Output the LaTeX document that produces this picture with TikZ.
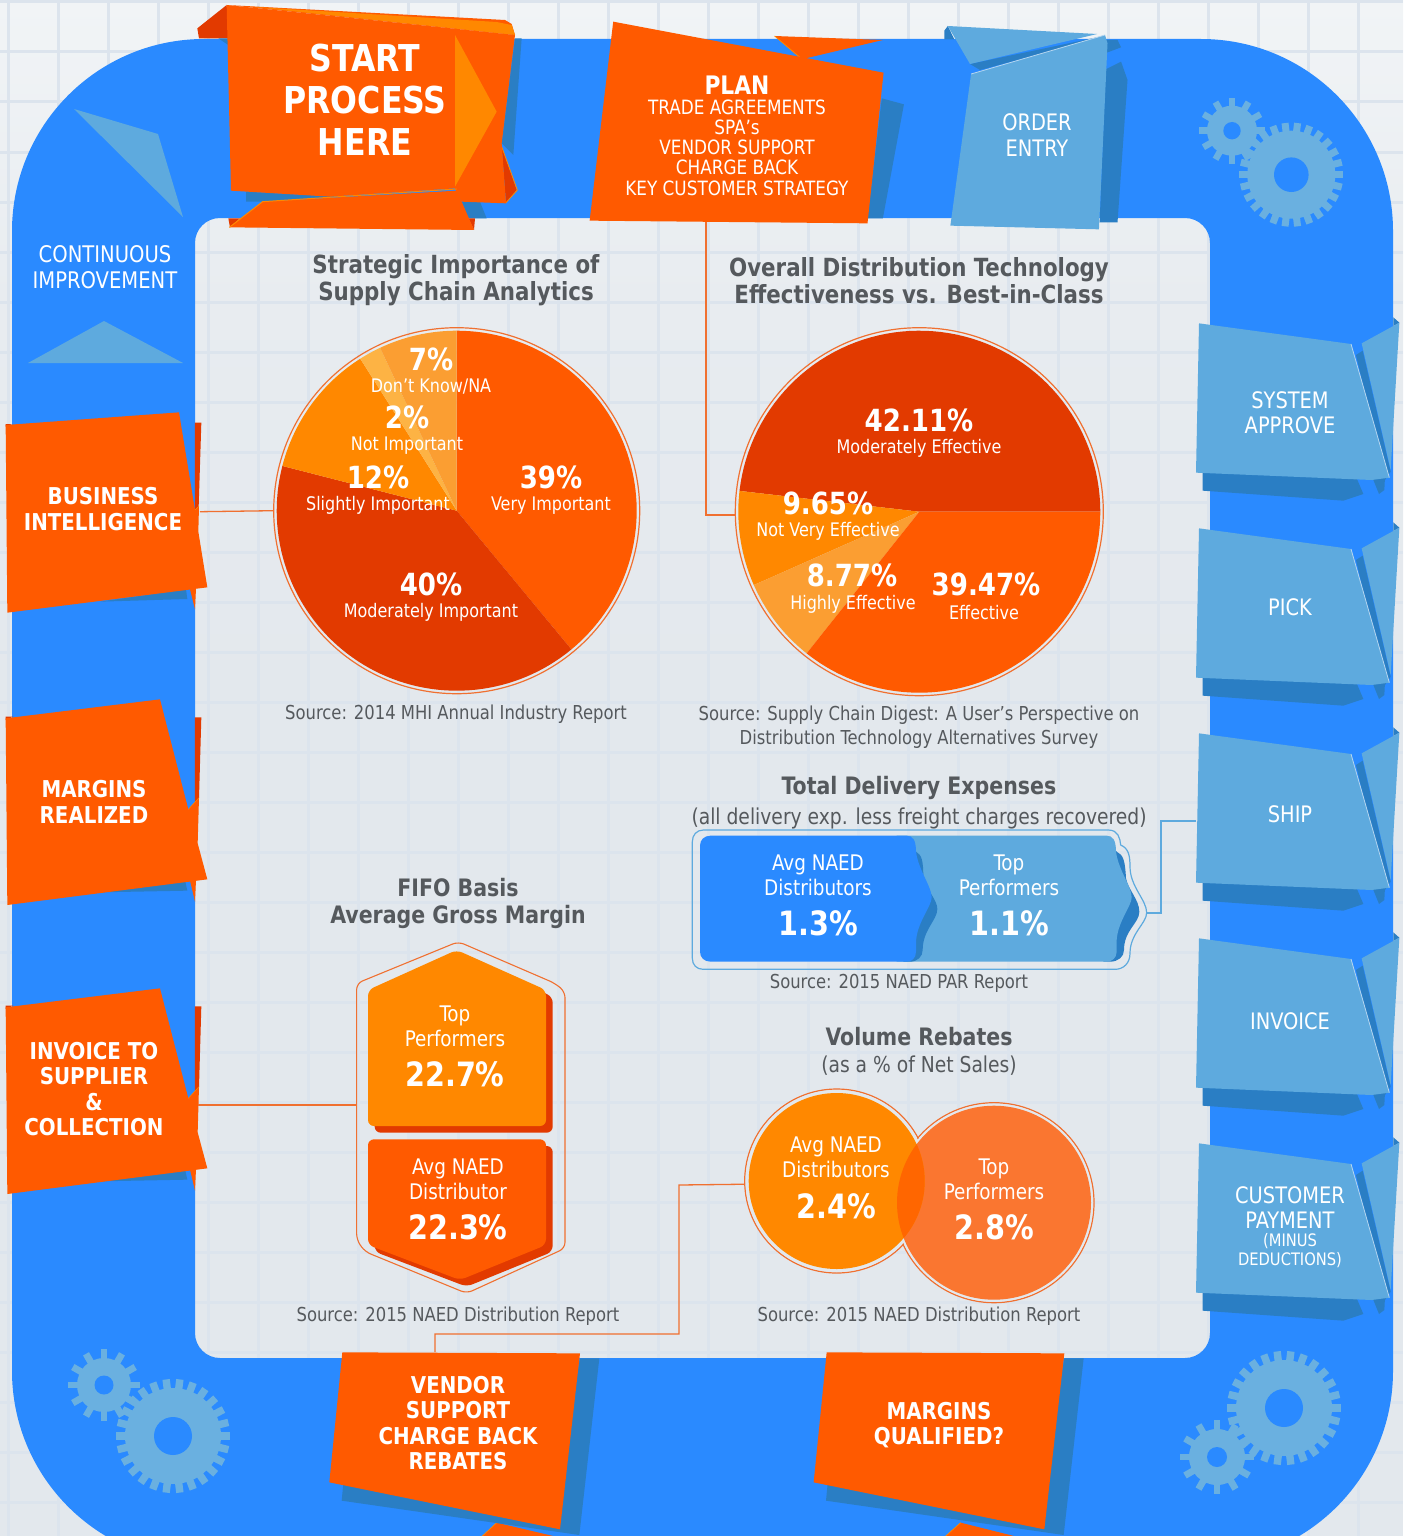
\documentclass[tikz,border=0pt]{standalone}
\usepackage{fontspec}
\setmainfont{DejaVu Sans Condensed}[BoldFont={DejaVu Sans Condensed Bold},FakeStretch=0.95]
\definecolor{cBand}{HTML}{2A8AFF}
\definecolor{cOr}{HTML}{FF5A00}
\definecolor{cDk}{HTML}{E23A00}
\definecolor{cLo}{HTML}{FF8800}
\definecolor{cPale}{HTML}{FB9E32}
\definecolor{cPaler}{HTML}{FDB344}
\definecolor{cLb}{HTML}{5EAADE}
\definecolor{cDb}{HTML}{2A7EC4}
\definecolor{cEdge}{HTML}{B5D6F0}
\definecolor{cGear}{HTML}{6AB0E0}
\definecolor{cGrid}{HTML}{DCE4ED}
\definecolor{cLink}{HTML}{F07030}
\definecolor{cGrey}{HTML}{55595D}
\definecolor{cGap}{HTML}{E3E8ED}
\definecolor{cTop}{HTML}{FA7630}
\definecolor{cLens}{HTML}{FF6600}
\definecolor{cPageTop}{HTML}{F1F4F6}
\definecolor{cPageMid}{HTML}{E8ECF0}
\newcommand{\fsz}[1]{\fontsize{#1}{#1}\selectfont}
\tikzset{
  x=1pt,y=-1pt,
  zoomed/.style={x=0.33333pt,y=-0.33333pt},
  zoomedb/.style={x=0.35714pt,y=-0.33333pt},
  txt/.style={inner sep=0pt,align=center,text=white},
  boxbold/.style={txt,font=\fsz{23.2}\bfseries,execute at begin node={\setlength{\baselineskip}{25.5pt}}},
  boxlight/.style={txt,font=\fsz{22.7},execute at begin node={\setlength{\baselineskip}{25.5pt}}},
  title/.style={txt,text=cGrey,font=\fsz{25}\bfseries,execute at begin node={\setlength{\baselineskip}{27pt}}},
  srcnote/.style={txt,text=cGrey,font=\fsz{19.2},execute at begin node={\setlength{\baselineskip}{24pt}}},
  subnote/.style={txt,text=cGrey,font=\fsz{21.9}},
  pct/.style={txt,font=\fsz{30.5}\bfseries},
  lab/.style={txt,font=\fsz{18.7}},
  stat/.style={txt,font=\fsz{21.5},execute at begin node={\setlength{\baselineskip}{25pt}}},
  statnum/.style={txt,font=\fsz{33.5}\bfseries},
  ring/.style={circle,draw=cLink,line width=1.2pt,inner sep=0pt},
  orlink/.style={draw=cLink,line width=1.3pt},
  bllink/.style={draw=cLb,line width=1.3pt},
}
\newcommand{\slice}[6]{\fill[#6] (#1,#2) -- plot[domain=#4:#5,samples=70] ({#1+#3*cos(\x)},{#2+#3*sin(\x)}) -- cycle;}
\newcommand{\gear}[7]{%
  \foreach \i in {1,...,#5}{%
    \pgfmathsetmacro{\ang}{360*\i/#5}%
    \fill[cGear,rotate around={\ang:(#1,#2)}] ({#1+#4-3},{#2-#7}) rectangle ({#1+#3},{#2+#7});
  }%
  \fill[cGear] (#1,#2) circle[radius=#4];
  \fill[cBand] (#1,#2) circle[radius=#6];
}
\newcommand{\leftfold}[1]{%
  \begin{scope}[shift={(0,#1)},zoomed]
    \fill[cDk] (585,952) -- (604,952) -- (597,1195) -- (585,1210) -- cycle;
    \fill[cDk] (17,950) -- (40,950) -- (17,960) -- cycle;
    \fill[cDb] (300,1477) -- (562,1472) -- (555,1440) -- cycle;
    \fill[cOr] (570,1442) -- (588,1440) -- (585,1505) -- cycle;
    \fill[cOr] (17,955) -- (480,898) -- (565,1228) -- (597,1193) -- (593,1330) -- (622,1438) -- (22,1515) -- cycle;
    \draw[cLo,line width=0.5pt] (565,1228) -- (597,1193);
  \end{scope}%
}
\newcommand{\bottomfold}[5]{%
  \begin{scope}[shift={(#1,1340)},zoomed]
    \fill[cOr] (#2,548) -- (#3,590) -- (#4,590) -- cycle;
    \draw[cLo,line width=0.7pt] (#2,548) -- (#4,590);
    \fill[cDb] (#5+65,482) -- (#5+778,585) -- (#5+838,55) -- (#5+780,55) -- (#5+720,400) -- (#5+70,430) -- cycle;
    \fill[cOr] (#5+67,37) -- (#5+780,40) -- (#5+720,568) -- (#5+28,427) -- cycle;
  \end{scope}%
}
\begin{document}
\begin{tikzpicture}
\useasboundingbox (0,0) rectangle (1403,1536);
\clip (0,0) rectangle (1403,1536);
% page background and grid
\fill[cGap] (0,0) rectangle (1403,1536);
\shade[top color=cPageMid,bottom color=cGap] (0,300) rectangle (1403,700);
\shade[top color=cPageTop,bottom color=cPageMid] (0,0) rectangle (1403,300.5);
\foreach \gx in {8,58,...,1408}{\draw[cGrid,line width=3pt] (\gx+0.5,0) -- (\gx+0.5,1536);}
\foreach \gy in {2,52,...,1502}{\draw[cGrid,line width=3pt] (0,\gy) -- (1403,\gy);}
% blue frame
\fill[cBand,even odd rule,rounded corners=192pt] (12,39) rectangle (1393,1563)
   [rounded corners=25pt] (195,218) rectangle (1210,1358);
% plain triangles of the frame
\fill[cLb] (74,109) -- (158,134) -- (183,217) -- cycle;
\fill[cLb] (28,363) -- (104,321) -- (183,363) -- cycle;
\node[boxlight,font=\fsz{22.9}] (cont) at (105,267) {CONTINUOUS\\IMPROVEMENT};
% gears
\gear{1291.3}{174.7}{52}{44}{26}{17.3}{3.5}
\gear{1232}{130.7}{33}{25}{12}{8.7}{3.2}
\gear{173}{1436}{57}{48}{26}{19}{3.7}
\gear{104}{1385}{36}{27}{12}{9.5}{3.4}
\gear{1284}{1408}{57}{48}{26}{19}{3.7}
\gear{1217}{1457}{37}{28}{12}{10}{3.4}
% ---- START
\begin{scope}[shift={(190,0)},zoomed]
  \fill[cDk] (110,15) -- (22,85) -- (27,115) -- (115,115) -- cycle;
  \fill[cDb] (85,115) -- (115,135) -- (115,115) -- cycle;
  \fill[cDb] (975,115) -- (995,115) -- (970,465) -- (935,430) -- cycle;
  \fill[cDb] (168,575) -- (168,605) -- (215,605) -- (440,590) -- cycle;
  \fill[cDb] (815,605) -- (870,605) -- (890,655) -- (835,655) -- cycle;
  \fill[cDk] (935,440) -- (980,570) -- (948,608) -- cycle;
  \draw[cLo,line width=0.8pt] (935,440) -- (982,570) -- (948,608);
  \fill[cDk] (115,655) -- (150,655) -- (120,682) -- cycle;
  \fill[cDk] (835,655) -- (855,655) -- (852,690) -- cycle;
  \fill[cOr] (110,15) -- (945,60) -- (965,72) -- (975,105) -- cycle;
  \fill[cLo] (180,20) -- (920,66) -- (965,75) -- (975,105) -- cycle;
  \fill[cOr] (110,15) -- (975,105) -- (935,430) -- (948,610) -- (815,605) -- (795,565) -- (420,590) -- (123,572) -- cycle;
  \fill[cOr] (118,682) -- (218,605) -- (800,572) -- (815,605) -- (852,690) -- cycle;
  \draw[cLo,line width=1pt] (118,682) -- (218,605) -- (800,567);
  \fill[cLo] (795,105) -- (920,335) -- (795,560) -- cycle;
\end{scope}
\node[txt,font=\fsz{37}\bfseries,execute at begin node={\setlength{\baselineskip}{42pt}}] (start) at (365,100) {START\\PROCESS\\HERE};
% ---- PLAN and ORDER ENTRY
\begin{scope}[shift={(580,10)},zoomedb]
  \fill[cDb] (845,265) -- (907,283) -- (848,625) -- (805,625) -- cycle;
  \fill[cOr] (545,78) -- (848,90) -- (620,148) -- cycle;
  \draw[cLo,line width=0.8pt] (545,78) -- (620,146);
  \fill[cOr] (93,35) -- (850,188) -- (805,640) -- (27,632) -- cycle;
  \fill[cDb] (1020,62) -- (1030,48) -- (1048,88) -- (1020,88) -- cycle;
  \fill[cDb] (1092,162) -- (1448,82) -- (1430,92) -- (1120,180) -- cycle;
  \fill[cDb] (1470,90) -- (1505,90) -- (1515,112) -- (1475,128) -- cycle;
  \fill[cDb] (1515,155) -- (1533,210) -- (1505,637) -- (1455,637) -- (1472,178) -- cycle;
  \fill[cLb] (1030,48) -- (1448,72) -- (1092,162) -- cycle;
  \fill[cLb] (1095,192) -- (1470,75) -- (1477,100) -- (1453,658) -- (1037,647) -- cycle;
  \draw[cEdge,line width=0.8pt] (1095,192) -- (1470,75);
\end{scope}
\node[txt,font=\fsz{25.5}\bfseries] (planhead) at (737,85) {PLAN};
\node[txt,font=\fsz{19.7},execute at begin node={\setlength{\baselineskip}{20.3pt}}] (planbody) at (737,147.5) {TRADE AGREEMENTS\\SPA’s\\VENDOR SUPPORT\\CHARGE BACK\\KEY CUSTOMER STRATEGY};
\node[boxlight] (order) at (1037,135) {ORDER\\ENTRY};
% ---- right column
\foreach \dy in {0,205,410,615,820}{
  \begin{scope}[shift={(1180,310+\dy)},zoomed]
    \fill[cDb] (68,480) -- (68,542) -- (490,572) -- (550,552) -- (528,500) -- cycle;
    \fill[cDb] (578,505) -- (615,500) -- (613,540) -- (597,552) -- cycle;
    \fill[cDb] (640,22) -- (658,38) -- (640,48) -- cycle;
    \fill[cDb] (528,135) -- (548,122) -- (632,485) -- (615,510) -- cycle;
    \fill[cLb] (545,100) -- (658,38) -- (632,480) -- cycle;
    \fill[cLb] (57,40) -- (513,102) -- (628,503) -- (575,510) -- (48,488) -- cycle;
    \draw[cEdge,line width=0.8pt] (513,102) -- (628,503);
  \end{scope}
}
\node[boxlight] (sysapp) at (1290,412.5) {SYSTEM\\APPROVE};
\node[boxlight] (pick) at (1290,607) {PICK};
\node[boxlight] (ship) at (1290,814) {SHIP};
\node[boxlight] (invoice) at (1290,1021) {INVOICE};
\node[boxlight] (custpay) at (1290,1207.5) {CUSTOMER\\PAYMENT};
\node[txt,font=\fsz{17.2},execute at begin node={\setlength{\baselineskip}{19pt}}] (minus) at (1290,1250.5) {(MINUS\\DEDUCTIONS)};
% ---- left column
\begin{scope}[shift={(0,400)},zoomed]
  \fill[cDk] (585,68) -- (604,68) -- (596,320) -- (585,330) -- cycle;
  \fill[cDk] (17,72) -- (37,72) -- (17,80) -- cycle;
  \fill[cDb] (300,605) -- (562,597) -- (558,568) -- cycle;
  \fill[cOr] (570,568) -- (588,565) -- (585,628) -- cycle;
  \fill[cOr] (17,75) -- (537,37) -- (585,330) -- (597,318) -- (595,395) -- (622,562) -- (22,638) -- cycle;
  \draw[cLo,line width=0.5pt] (585,330) -- (597,318);
\end{scope}
\leftfold{400}
\leftfold{689}
\node[boxbold] (busint) at (103,509) {BUSINESS\\INTELLIGENCE};
\node[boxbold] (margreal) at (94,802) {MARGINS\\REALIZED};
\node[boxbold] (invsup) at (94,1089) {INVOICE TO\\SUPPLIER\\\&\\COLLECTION};
% ---- bottom column
\bottomfold{320}{530}{708}{485}{0}
\bottomfold{800}{482}{650}{435}{13}
\node[boxbold] (vendor) at (458,1423) {VENDOR\\SUPPORT\\CHARGE BACK\\REBATES};
\node[boxbold] (margqual) at (939,1425) {MARGINS\\QUALIFIED?};
% ---- pie 1
\node[title] (t1) at (456,280) {Strategic Importance of\\Supply Chain Analytics};
\node[ring,minimum size=366pt] (pie1) at (456.7,510.7) {};
\slice{456.7}{510.7}{180}{-90}{50.4}{cOr}
\slice{456.7}{510.7}{180}{50.4}{194.4}{cDk}
\slice{456.7}{510.7}{180}{194.4}{237.6}{cLo}
\slice{456.7}{510.7}{180}{237.6}{244.8}{cPaler}
\slice{456.7}{510.7}{180}{244.8}{270}{cPale}
\node[pct] (p7) at (431,359) {7\%};
\node[lab] (l7) at (431,387) {Don’t Know/NA};
\node[pct] (p2) at (407,417) {2\%};
\node[lab] (l2) at (407,445.5) {Not Important};
\node[pct] (p12) at (378,477) {12\%};
\node[lab] (l12) at (378,505.5) {Slightly Important};
\node[pct] (p39) at (551,477) {39\%};
\node[lab] (l39) at (551,505.5) {Very Important};
\node[pct] (p40) at (431,584) {40\%};
\node[lab] (l40) at (431,612.5) {Moderately Important};
\node[srcnote] (s1) at (456,714) {Source: 2014 MHI Annual Industry Report};
% ---- pie 2
\node[title] (t2) at (919,280.5) {Overall Distribution Technology\\Effectiveness vs. Best-in-Class};
\node[ring,minimum size=368pt] (pie2) at (919.3,511.7) {};
\slice{919.3}{511.7}{181}{186.6}{360}{cDk}
\slice{919.3}{511.7}{181}{156.1}{186.6}{cLo}
\slice{919.3}{511.7}{181}{128.5}{156.1}{cPale}
\slice{919.3}{511.7}{181}{0}{128.5}{cOr}
\node[pct] (q42) at (919,420) {42.11\%};
\node[lab] (m42) at (919,448.5) {Moderately Effective};
\node[pct] (q9) at (828,503) {9.65\%};
\node[lab] (m9) at (828,531.5) {Not Very Effective};
\node[pct] (q8) at (852,575) {8.77\%};
\node[lab] (m8) at (853,604.5) {Highly Effective};
\node[pct] (q39) at (986,584) {39.47\%};
\node[lab] (m39) at (984,612.5) {Effective};
\node[srcnote] (s2) at (919,727) {Source: Supply Chain Digest: A User’s Perspective on\\Distribution Technology Alternatives Survey};
% ---- delivery expenses
\node[title,font=\fsz{24}\bfseries] (t3) at (919,788) {Total Delivery Expenses};
\node[subnote] (t3b) at (919,818) {(all delivery exp. less freight charges recovered)};
\begin{scope}[shift={(680,810)},zoomed]
  \draw[cLb,line width=1.2pt] (70,60) -- (1285,60) .. controls (1315,60) and (1320,85) .. (1322,105)
     .. controls (1345,115) and (1350,135) .. (1350,170) .. controls (1350,230) and (1400,270) .. (1400,308)
     .. controls (1400,340) and (1350,370) .. (1350,430) .. controls (1350,460) and (1330,478) .. (1305,478)
     -- (70,478) .. controls (50,478) and (37,465) .. (37,445) -- (37,95) .. controls (37,75) and (50,60) .. (70,60) -- cycle;
  \fill[cDb] (1290,100) -- (1310,125) .. controls (1330,135) and (1335,150) .. (1338,205)
     .. controls (1345,240) and (1378,270) .. (1378,305) .. controls (1378,340) and (1332,360) .. (1332,420)
     .. controls (1332,440) and (1315,455) .. (1290,455) -- (1270,455) -- cycle;
  \fill[cLb] (650,77) -- (1280,77) .. controls (1298,77) and (1308,90) .. (1308,125)
     .. controls (1315,180) and (1355,230) .. (1355,262) .. controls (1355,290) and (1308,340) .. (1310,400)
     -- (1310,425) .. controls (1310,445) and (1295,455) .. (1280,455) -- (650,455) -- cycle;
  \fill[cDb] (690,100) -- (708,125) .. controls (725,135) and (730,150) .. (730,205)
     .. controls (740,240) and (772,270) .. (772,297) .. controls (772,330) and (728,360) .. (728,420)
     .. controls (728,440) and (712,455) .. (690,455) -- (670,455) -- cycle;
  \fill[cBand] (92,77) -- (680,77) .. controls (698,77) and (708,90) .. (708,125)
     .. controls (715,180) and (755,230) .. (755,262) .. controls (755,290) and (708,340) .. (708,400)
     -- (708,425) .. controls (708,445) and (695,455) .. (680,455) -- (92,455)
     .. controls (72,455) and (60,442) .. (60,425) -- (60,107) .. controls (60,90) and (72,77) .. (92,77) -- cycle;
\end{scope}
\node[stat] (d1) at (818,875.5) {Avg NAED\\Distributors};
\node[statnum] (d1n) at (818,923) {1.3\%};
\node[stat] (d2) at (1009,875.5) {Top\\Performers};
\node[statnum] (d2n) at (1009,923) {1.1\%};
\node[srcnote] (s3) at (899,983) {Source: 2015 NAED PAR Report};
% ---- FIFO
\node[title,font=\fsz{24}\bfseries] (t4) at (458,903.5) {FIFO Basis\\Average Gross Margin};
\begin{scope}[shift={(340,930)},zoomed]
  \draw[cLink,line width=1.1pt,rounded corners=6pt] (50,160) -- (355,35) -- (645,160) -- (675,185) -- (675,955) -- (380,1090) -- (75,965) -- (50,930) -- cycle;
  \fill[cDk,rounded corners=6pt] (104,200) -- (370,80) -- (638,200) -- (638,608) -- (104,608) -- cycle;
  \fill[cLo,rounded corners=6pt] (84,180) -- (350,60) -- (618,180) -- (618,588) -- (84,588) -- cycle;
  \fill[cDk,rounded corners=6pt] (104,648) -- (638,648) -- (638,965) -- (380,1070) -- (104,965) -- cycle;
  \fill[cOr,rounded corners=6pt] (84,628) -- (618,628) -- (618,945) -- (360,1050) -- (84,945) -- cycle;
\end{scope}
\node[stat] (f1) at (455,1026.5) {Top\\Performers};
\node[statnum] (f1n) at (455,1074) {22.7\%};
\node[stat] (f2) at (458,1179.5) {Avg NAED\\Distributor};
\node[statnum] (f2n) at (458,1227) {22.3\%};
\node[srcnote] (s4) at (458,1316) {Source: 2015 NAED Distribution Report};
% ---- rebates
\node[title,font=\fsz{24}\bfseries] (t5) at (919,1037) {Volume Rebates};
\node[subnote] (t5b) at (919,1066) {(as a \% of Net Sales)};
\node[ring,minimum size=184pt] (circA) at (836.7,1181) {};
\node[ring,minimum size=200pt] (circB) at (994,1202.7) {};
\fill[cGap] (836.7,1181) circle[radius=91];
\fill[cGap] (994,1202.7) circle[radius=99];
\fill[cTop] (994,1202.7) circle[radius=97];
\fill[cLo] (836.7,1181) circle[radius=88];
\begin{scope}
  \clip (836.7,1181) circle[radius=88];
  \fill[cLens] (994,1202.7) circle[radius=97];
\end{scope}
\node[stat] (c1) at (836,1157.5) {Avg NAED\\Distributors};
\node[statnum] (c1n) at (836,1206) {2.4\%};
\node[stat] (c2) at (994,1179) {Top\\Performers};
\node[statnum] (c2n) at (994,1227) {2.8\%};
\node[srcnote] (s5) at (919,1316) {Source: 2015 NAED Distribution Report};
% ---- connectors
\coordinate (busFoot) at (200,511.7);
\coordinate (planFoot) at (706,222);
\coordinate (shipFoot) at (1196,821);
\coordinate (deliveryTip) at (1146,913);
\coordinate (invFoot) at (198,1105);
\coordinate (fifoSide) at (357,1105);
\coordinate (vendorTop) at (435,1352);
\draw[orlink] (busFoot) -- (pie1.west);
\draw[orlink] (planFoot) |- (pie2.181.6);
\draw[bllink] (shipFoot) -- (1161,821) -- (1161,913) -- (deliveryTip);
\draw[orlink] (invFoot) -- (fifoSide);
\draw[orlink] (vendorTop) -- (435,1334) -- (679,1334) -- (679,1185) -- (circA.182.5);
\end{tikzpicture}
\end{document}
